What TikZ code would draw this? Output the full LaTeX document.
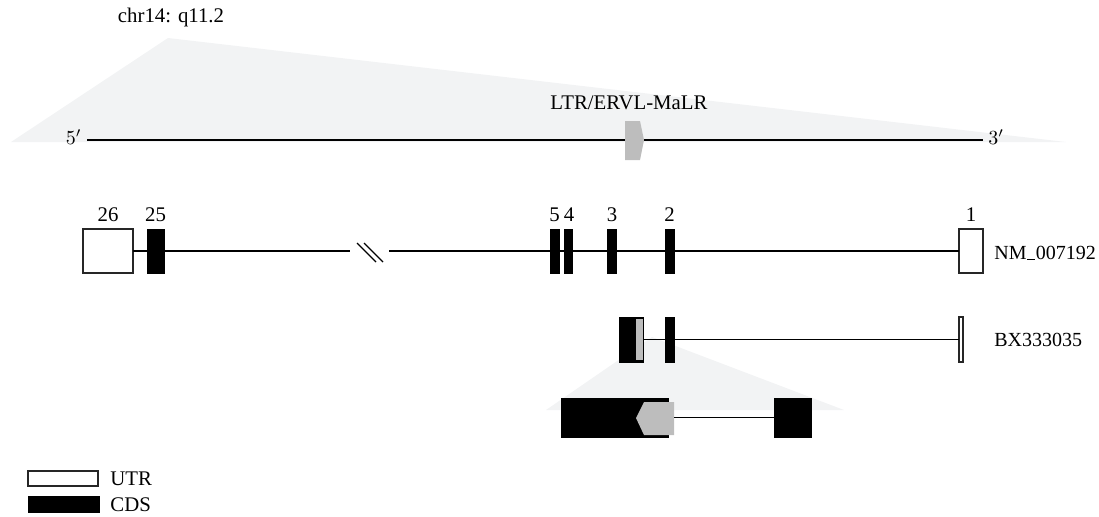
\documentclass[tikz,border=0pt]{standalone}
\usepackage{fontspec}
\setmainfont{Liberation Serif}
\definecolor{bgshade}{HTML}{F2F3F4}
\definecolor{ltrgray}{HTML}{BDBDBD}
\tikzset{
  px/.style={x=0.5pt,y=-0.5pt},
  cds/.style={draw=black,fill=black,line width=0.5pt,inner sep=0pt,outer sep=0pt},
  utr/.style={draw=black!85,fill=white,line width=0.6pt,inner sep=0pt,outer sep=0pt},
  gline/.style={line width=0.65pt,black},
  lbl/.style={inner sep=0pt,font=\fontsize{10.4}{12}\selectfont},
  sidelbl/.style={inner sep=0pt,anchor=west,font=\fontsize{10}{12}\selectfont},
}
\begin{document}
\begin{tikzpicture}[px]
\useasboundingbox (0,0) rectangle (1099,516);
% shaded zoom regions
\fill[bgshade] (168,38) -- (11,142) -- (1066,142) -- cycle;
\fill[bgshade] (652,337) -- (546,410) -- (844,410) -- cycle;
% chromosome
\node[lbl] (chr) at (171,17) {chr14: q11.2};
\node[lbl] (ltrlbl) at (629,103) {LTR/ERVL-MaLR};
\node[lbl,anchor=east] (five) at (82,137) {$5'$};
\node[lbl,anchor=west] (three) at (988,137) {$3'$};
\coordinate (cs) at (87,140);
\coordinate (ce) at (983,140);
\draw[line width=0.8pt] (cs) -- (ce);
\fill[ltrgray] (625,121) -- (640,121) -- (644,140) -- (640,160) -- (625,160) -- cycle;
% track 1: NM_007192
\node[utr,minimum width=25pt,minimum height=22pt] (e26) at (108,251) {};
\node[cds,minimum width=8.5pt,minimum height=22pt] (e25) at (155.5,251) {};
\node[cds,minimum width=4.2pt,minimum height=22pt] (e5) at (555,251) {};
\node[cds,minimum width=4.2pt,minimum height=22pt] (e4) at (568.5,251) {};
\node[cds,minimum width=4.5pt,minimum height=22pt] (e3) at (612,251) {};
\node[cds,minimum width=4.5pt,minimum height=22pt] (e2) at (669.5,251) {};
\node[utr,minimum width=12pt,minimum height=22pt] (e1) at (971,251) {};
\coordinate (bl) at (350,251);
\coordinate (br) at (389,251);
\draw[gline] (e26.east) -- (e25.west);
\draw[gline] (e25.east) -- (bl);
\draw[gline] (br) -- (e5.west);
\draw[gline] (e5.east) -- (e4.west);
\draw[gline] (e4.east) -- (e3.west);
\draw[gline] (e3.east) -- (e2.west);
\draw[gline] (e2.east) -- (e1.west);
\draw[gline] (357,243) -- (376,262);
\draw[gline] (364,243) -- (383,262);
\node[lbl] (l26) at (108,215) {26};
\node[lbl] (l25) at (155.5,215) {25};
\node[lbl] (l5) at (554.5,215) {5};
\node[lbl] (l4) at (569,215) {4};
\node[lbl] (l3) at (612,215) {3};
\node[lbl] (l2) at (669.5,215) {2};
\node[lbl] (l1) at (971,215) {1};
\node[sidelbl] (nm) at (994,253) {NM\kern0.3pt\rule[-0.6pt]{4pt}{0.45pt}\kern0.3pt 007192};
% track 2: BX333035
\node[cds,minimum width=12pt,minimum height=22.5pt] (b1) at (631,339.5) {};
\fill[ltrgray] (636,319) rectangle (642.5,360);
\node[cds,minimum width=4.5pt,minimum height=22.5pt] (b2) at (669.5,339.5) {};
\node[utr,minimum width=2pt,minimum height=22.5pt] (bL) at (961,339.5) {};
\draw[gline] (b1.east) -- (b2.west);
\draw[gline] (b2.east) -- (bL.west);
\node[sidelbl] (bx) at (994,340) {BX333035};
% zoomed detail
\node[cds,minimum width=53.5pt,minimum height=19.5pt] (z1) at (614.5,417.5) {};
\fill[ltrgray] (644,402) -- (674,402) -- (674,435) -- (644,435) -- (636,418) -- cycle;
\node[cds,minimum width=18.5pt,minimum height=19.5pt] (z2) at (792.5,417.5) {};
\coordinate (zg) at (674,417.5);
\draw[gline] (zg) -- (z2.west);
% legend
\node[utr,minimum width=35pt,minimum height=7.5pt] (kutr) at (63,478.5) {};
\node[cds,minimum width=35.5pt,minimum height=7.8pt] (kcds) at (63.5,504.5) {};
\node[lbl,anchor=west] (tutr) at (110,478.5) {UTR};
\node[lbl,anchor=west] (tcds) at (110,504.5) {CDS};
\end{tikzpicture}
\end{document}
